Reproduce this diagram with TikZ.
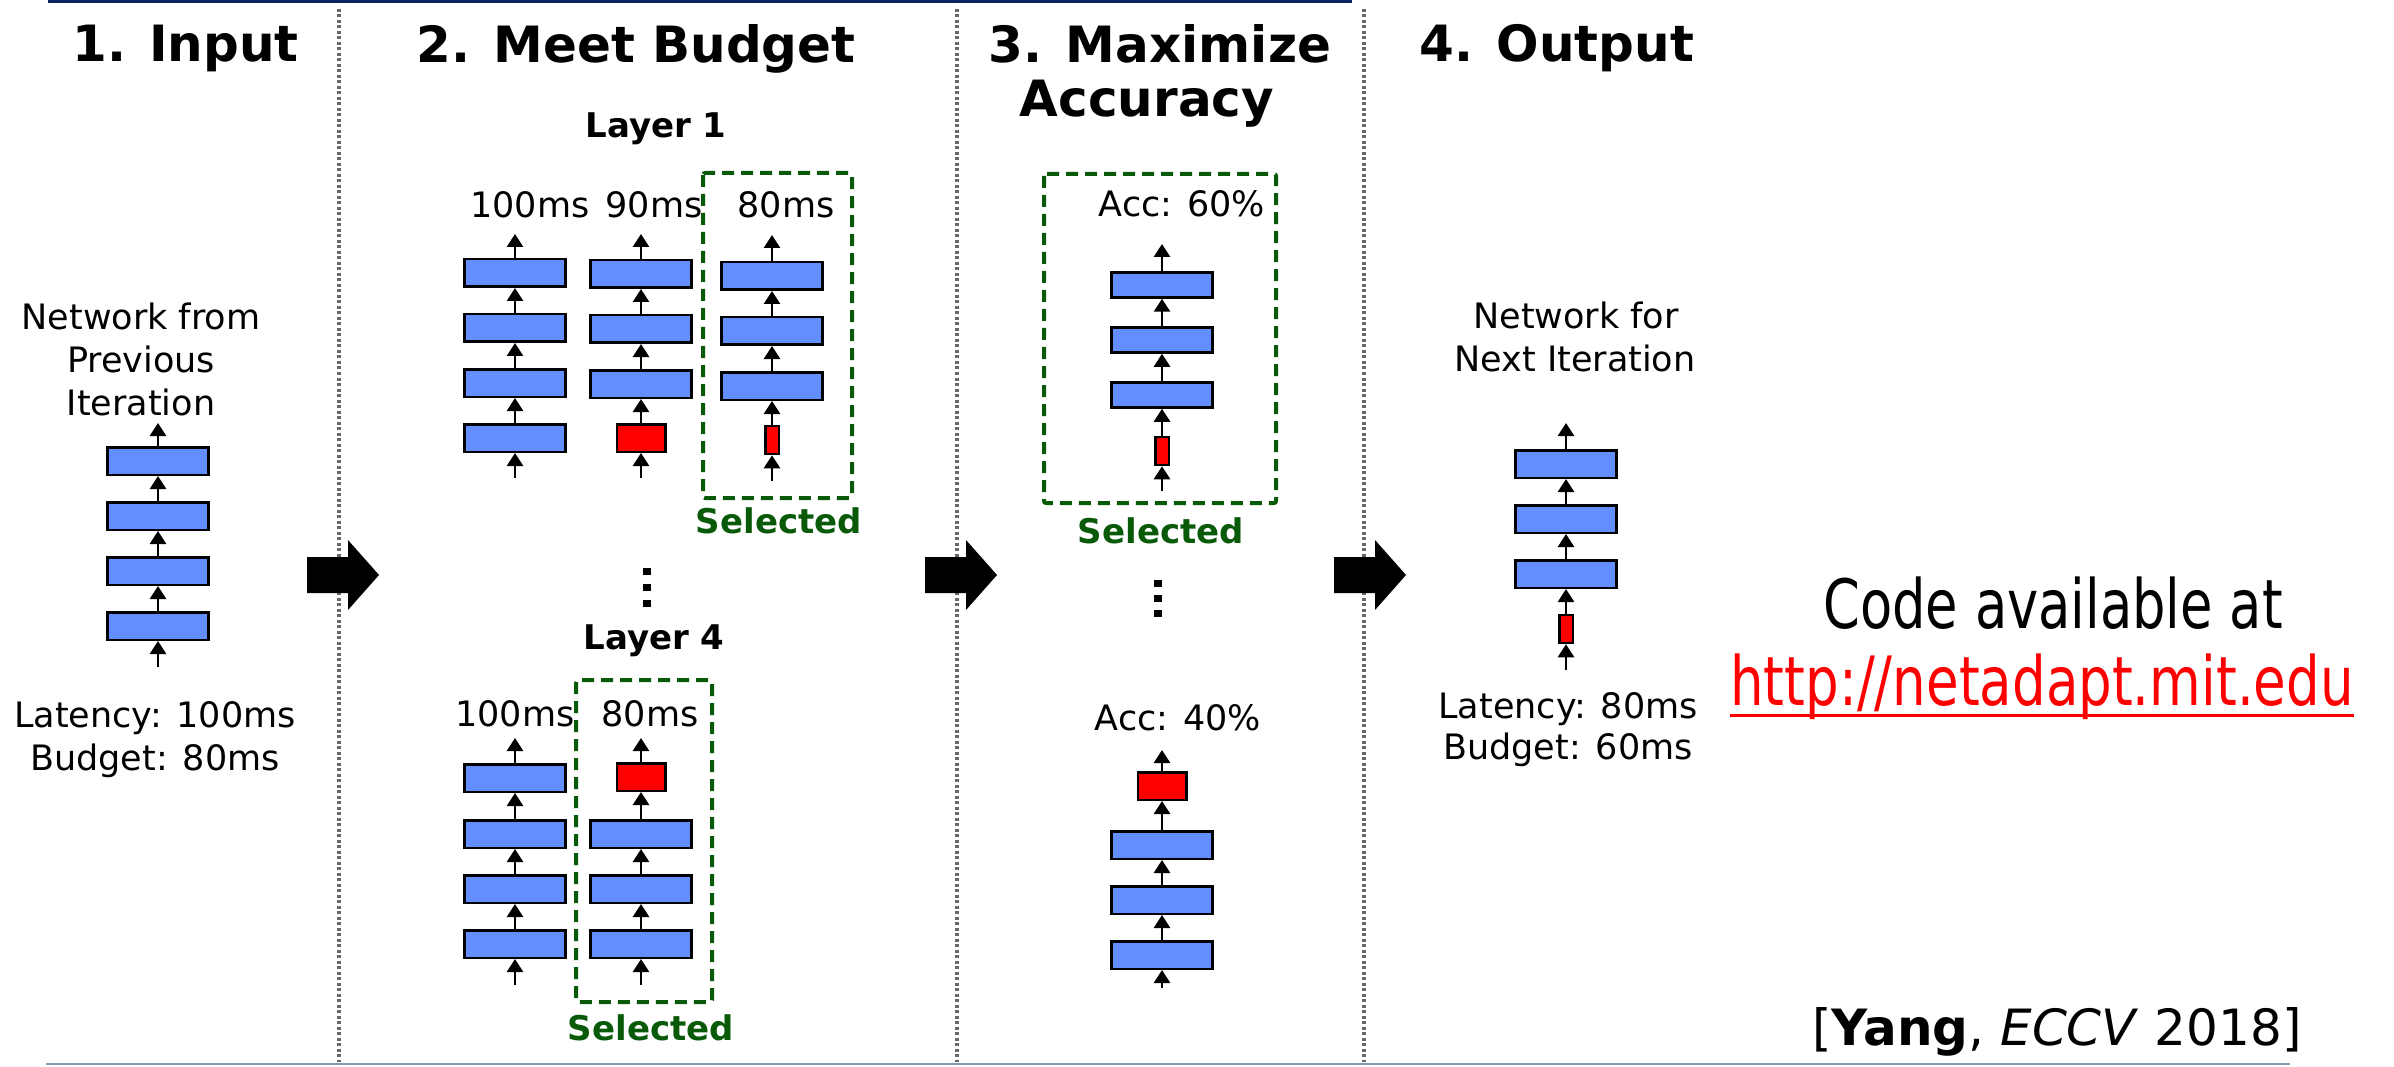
\documentclass[tikz,border=0pt]{standalone}
\usepackage{fontspec}
\setmainfont{DejaVu Sans}
\usepackage{graphicx}
\usetikzlibrary{arrows.meta}
\definecolor{netblue}{RGB}{98,142,255}
\definecolor{selgreen}{RGB}{8,90,8}
\definecolor{navyline}{RGB}{12,35,100}
\definecolor{botline}{RGB}{135,150,185}
\definecolor{sepgray}{RGB}{105,105,105}
\definecolor{urlred}{RGB}{255,0,0}
\begin{document}
\begin{tikzpicture}[x=1pt,y=-1pt,
  blk/.style={draw=black, line width=2.5pt, fill=netblue, minimum width=101pt, minimum height=27.5pt, inner sep=0pt},
  blks/.style={blk, minimum height=25pt},
  redw/.style={blk, fill=red, minimum width=48.5pt},
  redn/.style={blk, fill=red, minimum width=13.5pt, minimum height=28pt},
  arr/.style={line width=2.7pt, -{Triangle[width=16pt,length=13pt]}},
  lbl/.style={font=\fontsize{35}{42}\selectfont, anchor=base, inner sep=0pt},
  hdr/.style={font=\bfseries\fontsize{50}{58}\selectfont, anchor=base, inner sep=0pt},
  bld/.style={font=\bfseries\fontsize{34}{40}\selectfont, anchor=base, inner sep=0pt},
  sel/.style={bld, text=selgreen},
  selbox/.style={draw=selgreen, line width=4pt, dash pattern=on 12pt off 7pt, rounded corners=2pt},
  sepline/.style={draw=sepgray, line width=4pt, dash pattern=on 3pt off 2.5pt},
  dotsq/.style={fill=black}
]
\useasboundingbox (0,0) rectangle (2394,1067);
\fill[white] (0,0) rectangle (2394,1067);

% frame lines
\draw[navyline, line width=3.5pt] (48,1.5) -- (1352,1.5);
\draw[botline, line width=2.5pt] (46,1064) -- (2290,1064);

% separators
\draw[sepline] (339,9) -- (339,1062);
\draw[sepline] (957,9) -- (957,1062);
\draw[sepline] (1364,9) -- (1364,1062);

% headers
\node[hdr] (hd1) at (185.5,62) {1. Input};
\node[hdr] (hd2) at (636,63) {2. Meet Budget};
\node[hdr] (hd3a) at (1160,63) {3. Maximize};
\node[hdr] (hd3b) at (1147,117) {Accuracy};
\node[hdr] (hd4) at (1557,62) {4. Output};

% big arrows
\fill (307,557) -- (348,557) -- (348,540) -- (379,575) -- (348,610) -- (348,593) -- (307,593) -- cycle;
\fill (925,557) -- (966,557) -- (966,540) -- (997,575) -- (966,610) -- (966,593) -- (925,593) -- cycle;
\fill (1334,557) -- (1375,557) -- (1375,540) -- (1406,575) -- (1375,610) -- (1375,593) -- (1334,593) -- cycle;

% ---------- Section 1
\node[lbl] (n1a) at (141,330) {Network from};
\node[lbl] (n1b) at (141,372) {Previous};
\node[lbl] (n1c) at (141,415) {Iteration};
\node[blk] (i1) at (158,626) {};
\node[blk] (i2) at (158,571) {};
\node[blk] (i3) at (158,516) {};
\node[blk] (i4) at (158,461) {};
\coordinate (i0) at (158,667);
\coordinate (i5) at (158,423);
\foreach \p/\q in {i0/i1,i1/i2,i2/i3,i3/i4,i4/i5} \draw[arr] (\p) -- (\q);
\node[lbl] (lat1) at (155,727) {Latency: 100ms};
\node[lbl] (bud1) at (155,770) {Budget: 80ms};

% ---------- Section 2, Layer 1
\node[bld] (lay1) at (656,138) {Layer 1};
\node[lbl] (ta) at (530,218) {100ms};
\node[lbl] (tb) at (654,218) {90ms};
\node[lbl] (tc) at (786,218) {80ms};
\node[blk] (a1) at (515,438) {};
\node[blk] (a2) at (515,383) {};
\node[blk] (a3) at (515,328) {};
\node[blk] (a4) at (515,273) {};
\coordinate (a0) at (515,478);
\coordinate (a5) at (515,234);
\node[redw] (b1) at (641,438) {};
\node[blk] (b2) at (641,384) {};
\node[blk] (b3) at (641,329) {};
\node[blk] (b4) at (641,274) {};
\coordinate (b0) at (641,478);
\coordinate (b5) at (641,234);
\node[redn] (c1) at (772,440) {};
\node[blk] (c2) at (772,386) {};
\node[blk] (c3) at (772,331) {};
\node[blk] (c4) at (772,276) {};
\coordinate (c0) at (772,481);
\coordinate (c5) at (772,235);
\foreach \s in {a,b,c}{
  \draw[arr] (\s0) -- (\s1);
  \draw[arr] (\s1) -- (\s2);
  \draw[arr] (\s2) -- (\s3);
  \draw[arr] (\s3) -- (\s4);
  \draw[arr] (\s4) -- (\s5);
}
\draw[selbox] (703,173) rectangle (852,498);
\node[sel] (sel1) at (779,533) {Selected};

% vertical dots
\fill[dotsq] (643,567.5) rectangle (651,574.5);
\fill[dotsq] (643,583.5) rectangle (651,590.5);
\fill[dotsq] (643,599.5) rectangle (651,606.5);

% ---------- Section 2, Layer 4
\node[bld] (lay4) at (654,649) {Layer 4};
\node[lbl] (td) at (515,726) {100ms};
\node[lbl] (te) at (650,726) {80ms};
\node[blk] (d1) at (515,944) {};
\node[blk] (d2) at (515,889) {};
\node[blk] (d3) at (515,834) {};
\node[blk] (d4) at (515,778) {};
\coordinate (d0) at (515,985);
\coordinate (d5) at (515,738);
\node[blk] (e1) at (641,944) {};
\node[blk] (e2) at (641,889) {};
\node[blk] (e3) at (641,834) {};
\node[redw] (e4) at (641,777) {};
\coordinate (e0) at (641,985);
\coordinate (e5) at (641,738);
\foreach \s in {d,e}{
  \draw[arr] (\s0) -- (\s1);
  \draw[arr] (\s1) -- (\s2);
  \draw[arr] (\s2) -- (\s3);
  \draw[arr] (\s3) -- (\s4);
  \draw[arr] (\s4) -- (\s5);
}
\draw[selbox] (576,680) rectangle (712,1002);
\node[sel] (sel2) at (651,1040) {Selected};

% ---------- Section 3
\node[lbl] (acc6) at (1182,217) {Acc: 60\%};
\node[redn] (f1) at (1162,451) {};
\node[blks] (f2) at (1162,395) {};
\node[blks] (f3) at (1162,340) {};
\node[blks] (f4) at (1162,285) {};
\coordinate (f0) at (1162,491);
\coordinate (f5) at (1162,244);
\draw[selbox] (1044,174) rectangle (1276,503);
\node[sel] (sel3) at (1161,543) {Selected};
\fill[dotsq] (1154,579.5) rectangle (1162,586.5);
\fill[dotsq] (1154,594.5) rectangle (1162,601.5);
\fill[dotsq] (1154,609.5) rectangle (1162,616.5);
\node[lbl] (acc4) at (1178,730) {Acc: 40\%};
\node[blk] (g1) at (1162,955) {};
\node[blk] (g2) at (1162,900) {};
\node[blk] (g3) at (1162,845) {};
\node[redw] (g4) at (1162,786) {};
\coordinate (g0) at (1162,988);
\coordinate (g5) at (1162,750);
\foreach \s in {f,g}{
  \draw[arr] (\s0) -- (\s1);
  \draw[arr] (\s1) -- (\s2);
  \draw[arr] (\s2) -- (\s3);
  \draw[arr] (\s3) -- (\s4);
  \draw[arr] (\s4) -- (\s5);
}

% ---------- Section 4
\node[lbl] (n4a) at (1576,329) {Network for};
\node[lbl] (n4b) at (1575,371) {Next Iteration};
\node[redn] (o1) at (1566,629) {};
\node[blk] (o2) at (1566,574) {};
\node[blk] (o3) at (1566,519) {};
\node[blk] (o4) at (1566,464) {};
\coordinate (o0) at (1566,670);
\coordinate (o5) at (1566,423);
\foreach \p/\q in {o0/o1,o1/o2,o2/o3,o3/o4,o4/o5} \draw[arr] (\p) -- (\q);
\node[lbl] (lat4) at (1568,718) {Latency: 80ms};
\node[lbl] (bud4) at (1568,759) {Budget: 60ms};

% ---------- Code link and citation
\node[anchor=base, inner sep=0pt, font=\fontsize{68}{80}\selectfont] (code) at (2053,628) {\scalebox{0.775}[1]{Code available at}};
\node[anchor=base, inner sep=0pt, text=urlred, font=\fontsize{68}{80}\selectfont] (url) at (2042,705) {\scalebox{0.78}[1]{http://netadapt.mit.edu}};
\draw[urlred, line width=3pt] ([yshift=-10pt]url.base west) -- ([yshift=-10pt]url.base east);
\node[anchor=base, inner sep=0pt, font=\fontsize{50}{60}\selectfont] (cite) at (2057,1045) {[\textbf{Yang}, \textit{ECCV} 2018]};
\end{tikzpicture}
\end{document}
